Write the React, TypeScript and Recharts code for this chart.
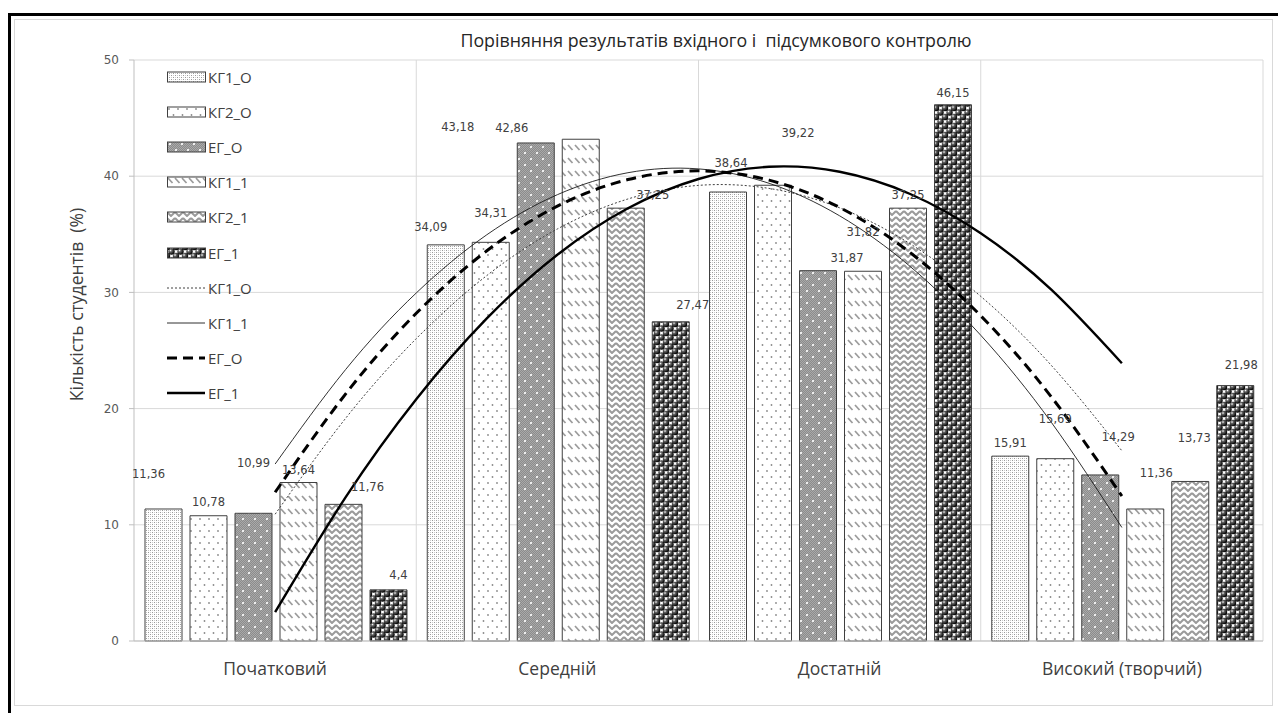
import React from 'react';
import { ComposedChart, Bar, Line, XAxis, YAxis, CartesianGrid, Legend, LabelList } from 'recharts';

// ---------- data ----------
const categories = ['Початковий', 'Середній', 'Достатній', 'Високий (творчий)'];
const kg1o = [11.36, 34.09, 38.64, 15.91];
const kg2o = [10.78, 34.31, 39.22, 15.69];
const ego = [10.99, 42.86, 31.87, 14.29];
const kg11 = [13.64, 43.18, 31.82, 11.36];
const kg21 = [11.76, 37.25, 37.25, 13.73];
const eg1 = [4.4, 27.47, 46.15, 21.98];
const yTicks = [0, 10, 20, 30, 40, 50];

// trend curves (category 1..4 in quarter steps)
const trendX = [1, 1.25, 1.5, 1.75, 2, 2.25, 2.5, 2.75, 3, 3.25, 3.5, 3.75, 4];
const trendKg1o = [10.91, 19.17, 26.02, 31.45, 35.46, 38.04, 39.21, 38.95, 37.28, 34.18, 29.66, 23.72, 16.37];
const trendKg11 = [15.23, 23.37, 29.95, 34.96, 38.41, 40.3, 40.63, 39.39, 36.59, 32.23, 26.31, 18.82, 9.77];
const trendEgo = [12.8, 21.27, 28.2, 33.58, 37.42, 39.71, 40.46, 39.66, 37.31, 33.42, 27.99, 21.01, 12.48];
const trendEg1 = [2.48, 12.38, 20.81, 27.76, 33.24, 37.24, 39.76, 40.81, 40.38, 38.47, 35.09, 30.23, 23.9];

// label offsets (style): relative to bar centre / bar top
const lblDx = {
  kg1o: [-15, -15, 3, 0],
  kg2o: [0, 0, 25, 0],
  ego: [0, -24, 29, 18],
  kg11: [0, -123, 0, 11],
  kg21: [24, 27, 0, 4],
  eg1: [10, 22, 0, 6],
};
const lblDy = {
  kg1o: [-35, -18, -29, -13],
  kg2o: [-14, -29, -52, -40],
  ego: [-50, -15, -13, -38],
  kg11: [-13, -12, -39, -36],
  kg21: [-17, -13, -13, -43],
  eg1: [-15, -17, -12, -21],
};

const chartData = categories.map((c, i) => ({
  cat: c,
  kg1o: kg1o[i],
  kg2o: kg2o[i],
  ego: ego[i],
  kg11: kg11[i],
  kg21: kg21[i],
  eg1: eg1[i],
}));

const trendData = trendX.map((x, i) => ({
  x,
  tkg1o: trendKg1o[i],
  tkg11: trendKg11[i],
  tego: trendEgo[i],
  teg1: trendEg1[i],
}));

const barSeries = [
  { key: 'kg1o', name: 'КГ1_О', fill: 'url(#pKg1o)' },
  { key: 'kg2o', name: 'КГ2_О', fill: 'url(#pKg2o)' },
  { key: 'ego', name: 'ЕГ_О', fill: 'url(#pEgo)' },
  { key: 'kg11', name: 'КГ1_1', fill: 'url(#pKg11)' },
  { key: 'kg21', name: 'КГ2_1', fill: 'url(#pKg21)' },
  { key: 'eg1', name: 'ЕГ_1', fill: 'url(#pEg1)' },
];

const lineSeries = [
  { key: 'tkg1o', name: 'КГ1_О', stroke: '#404040', width: 1, dash: '2 2' },
  { key: 'tkg11', name: 'КГ1_1', stroke: '#1a1a1a', width: 0.9, dash: undefined },
  { key: 'tego', name: 'ЕГ_О', stroke: '#000', width: 3, dash: '10 6' },
  { key: 'teg1', name: 'ЕГ_1', stroke: '#000', width: 2.4, dash: undefined },
];

const fmt = (v: any) => String(v).replace('.', ',');

const makeLabel = (dxs: number[], dys: number[]) => (props: any) => {
  const { x, y, width, value, index } = props;
  const i = typeof index === 'number' ? index : 0;
  const cx = Number(x) + Number(width) / 2 + dxs[i];
  const cy = Number(y) + dys[i];
  return (
    <text
      key={`l-${i}`}
      x={cx}
      y={cy}
      textAnchor="middle"
      dominantBaseline="central"
      fontSize={11.5}
      fontFamily="DejaVu Sans"
      fill="#404040"
    >
      {fmt(value)}
    </text>
  );
};

const checker = (() => {
  const out: any[] = [];
  for (let yy = 0; yy < 12; yy++) {
    for (let xx = 0; xx < 12; xx++) {
      if ((xx + yy) % 2 === 0) out.push(<rect key={`${xx}-${yy}`} x={xx} y={yy} width={1} height={1} fill="#a9a9a9" />);
    }
  }
  return out;
})();

const Patterns = () => (
  <defs>
    <pattern id="pKg1o" width="4" height="4" patternUnits="userSpaceOnUse">
      <rect width="4" height="4" fill="#ffffff" />
      <rect x="0" y="0" width="1" height="1" fill="#9a9a9a" />
      <rect x="2" y="2" width="1" height="1" fill="#9a9a9a" />
      <rect x="2" y="0" width="1" height="1" fill="#cccccc" />
      <rect x="0" y="2" width="1" height="1" fill="#cccccc" />
    </pattern>
    <pattern id="pKg2o" width="9" height="12" patternUnits="userSpaceOnUse">
      <rect width="9" height="12" fill="#ffffff" />
      <circle cx="2" cy="3" r="0.9" fill="#8a8a8a" />
      <circle cx="6.5" cy="9" r="0.9" fill="#8a8a8a" />
    </pattern>
    <pattern id="pEgo" width="12" height="12" patternUnits="userSpaceOnUse">
      <rect width="12" height="12" fill="#8c8c8c" />
      {checker}
      <rect x="2" y="2" width="2" height="2" fill="#eeeeee" />
      <rect x="8" y="8" width="2" height="2" fill="#eeeeee" />
    </pattern>
    <pattern id="pKg11" width="7" height="13" patternUnits="userSpaceOnUse">
      <rect width="7" height="13" fill="#ffffff" />
      <line x1="1" y1="2" x2="5.5" y2="7" stroke="#9a9a9a" strokeWidth="1.7" />
    </pattern>
    <pattern id="pKg21" width="8" height="6" patternUnits="userSpaceOnUse">
      <rect width="8" height="6" fill="#ffffff" />
      <polyline points="0,1 4,5 8,1" fill="none" stroke="#9a9a9a" strokeWidth="2" />
    </pattern>
    <radialGradient id="ball" cx="35%" cy="35%" r="65%">
      <stop offset="0" stopColor="#ffffff" />
      <stop offset="0.3" stopColor="#6a6a6a" />
      <stop offset="1" stopColor="#000000" />
    </radialGradient>
    <pattern id="pEg1" width="9" height="9" patternUnits="userSpaceOnUse">
      <rect width="9" height="9" fill="#ffffff" />
      <circle cx="4.5" cy="4.5" r="3.2" fill="url(#ball)" />
      <circle cx="0" cy="0" r="3.2" fill="url(#ball)" />
      <circle cx="9" cy="0" r="3.2" fill="url(#ball)" />
      <circle cx="0" cy="9" r="3.2" fill="url(#ball)" />
      <circle cx="9" cy="9" r="3.2" fill="url(#ball)" />
    </pattern>
  </defs>
);

const LegendBox = () => {
  const rowH = 35.2;
  return (
    <div style={{ fontFamily: 'Open Sans', fontSize: 15, color: '#404040' }}>
      {barSeries.map((s) => (
        <div key={'b' + s.key} style={{ height: rowH, display: 'flex', alignItems: 'center' }}>
          <svg width={40} height={12} style={{ display: 'block' }}>
            <rect x={0.5} y={1} width={38} height={10} fill={s.fill} stroke="#404040" strokeWidth={1} />
          </svg>
          <span style={{ marginLeft: 1 }}>{s.name}</span>
        </div>
      ))}
      {lineSeries.map((s) => (
        <div key={'l' + s.key} style={{ height: rowH, display: 'flex', alignItems: 'center' }}>
          <svg width={40} height={12} style={{ display: 'block' }}>
            <line x1={0} y1={6} x2={38} y2={6} stroke={s.stroke} strokeWidth={s.width} strokeDasharray={s.dash} />
          </svg>
          <span style={{ marginLeft: 1 }}>{s.name}</span>
        </div>
      ))}
    </div>
  );
};

const YLabel = (props: any) => {
  const vb = props.viewBox || {};
  const cx = vb.x + 2;
  const cy = vb.y + vb.height / 2 - 46;
  return (
    <text
      x={cx}
      y={cy}
      transform={`rotate(-90, ${cx}, ${cy})`}
      textAnchor="middle"
      dominantBaseline="central"
      fontSize={17.5}
      fontFamily="Open Sans"
      fill="#404040"
      style={{ whiteSpace: 'pre' }}
    >
      {'Кількість студентів  (%)'}
    </text>
  );
};

export default function App() {
  return (
    <div style={{ position: 'absolute', left: 0, top: 0, width: 1278, height: 713, background: '#fff', overflow: 'hidden' }}>
      <div style={{ position: 'absolute', left: 8, top: 13, width: 1270, height: 700, borderTop: '3px solid #000', borderLeft: '3px solid #000', boxSizing: 'border-box' }} />
      <div style={{ position: 'absolute', left: 14, top: 19, width: 1259, height: 687, border: '1px solid #d9d9d9', boxSizing: 'border-box' }} />
      <div
        style={{
          position: 'absolute',
          left: 716,
          top: 40,
          transform: 'translate(-50%, -50%)',
          fontFamily: 'Open Sans',
          fontSize: 17.8,
          color: '#262626',
          whiteSpace: 'pre',
        }}
      >
        {'Порівняння результатів вхідного і  підсумкового контролю'}
      </div>
      <div style={{ position: 'absolute', left: 0, top: 0 }}>
        <ComposedChart
          width={1278}
          height={713}
          data={chartData}
          margin={{ top: 60, right: 15, bottom: 32, left: 74 }}
          barCategoryGap={11}
          barGap={8}
        >
          <Patterns />
          <CartesianGrid
            stroke="#d9d9d9"
            verticalCoordinatesGenerator={({ offset }: any) =>
              [1, 2, 3, 4].map((i) => offset.left + (offset.width * i) / categories.length)
            }
          />
          <XAxis
            dataKey="cat"
            tickLine={false}
            axisLine={{ stroke: '#bfbfbf' }}
            tick={{ fontSize: 17.5, fill: '#404040', fontFamily: 'Open Sans' }}
            tickMargin={16}
            height={40}
          />
          <XAxis xAxisId="t" type="number" dataKey="x" domain={[0.5, 4.5]} hide />
          <YAxis
            domain={[0, 50]}
            ticks={yTicks}
            width={60}
            tickSize={5}
            tickMargin={10}
            tickLine={{ stroke: '#bfbfbf' }}
            axisLine={{ stroke: '#bfbfbf' }}
            tick={{ fontSize: 12, fill: '#595959', fontFamily: 'DejaVu Sans' }}
            label={<YLabel />}
          />
          <Legend
            layout="vertical"
            align="center"
            verticalAlign="middle"
            content={<LegendBox />}
            wrapperStyle={{ left: 167, top: 59, width: 120, height: 360 }}
          />
          {barSeries.map((s) => (
            <Bar
              key={s.key}
              dataKey={s.key}
              name={s.name}
              fill={s.fill}
              stroke="#404040"
              strokeWidth={1}
              isAnimationActive={false}
            >
              <LabelList dataKey={s.key} content={makeLabel((lblDx as any)[s.key], (lblDy as any)[s.key])} />
            </Bar>
          ))}
          {lineSeries.map((s) => (
            <Line
              key={s.key}
              xAxisId="t"
              data={trendData}
              dataKey={s.key}
              name={s.name}
              type="natural"
              dot={false}
              activeDot={false}
              stroke={s.stroke}
              strokeWidth={s.width}
              strokeDasharray={s.dash}
              isAnimationActive={false}
              legendType="none"
            />
          ))}
        </ComposedChart>
      </div>
    </div>
  );
}
